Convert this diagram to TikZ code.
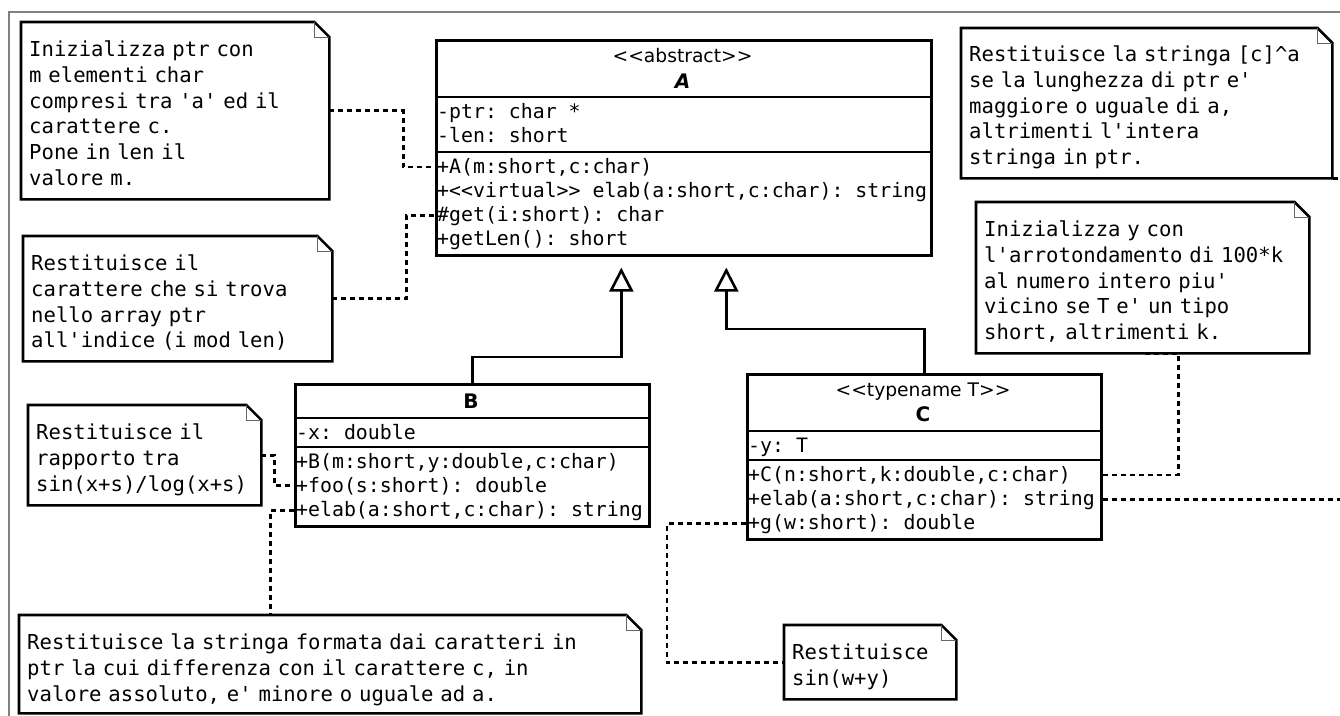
\documentclass[tikz,border=0pt]{standalone}
\usepackage{fontspec}
\setmainfont{DejaVu Sans}
\setmonofont{DejaVu Sans Mono}
\usetikzlibrary{arrows.meta}

\begin{document}
\begin{tikzpicture}[x=1pt,y=-1pt,
  classbox/.style={draw,line width=2.6pt,fill=white,inner sep=0pt,anchor=north west},
  member/.style={anchor=base west,inner sep=0pt,font=\ttfamily\fontsize{19.85}{24}\selectfont},
  stereo/.style={anchor=base,inner sep=0pt,font=\fontsize{18.7}{22}\selectfont},
  cname/.style={anchor=base,inner sep=0pt,font=\bfseries\fontsize{20}{22}\selectfont},
  notebox/.style={inner sep=0pt,anchor=north west},
  notetext/.style={anchor=base west,inner sep=0pt,align=left,text width=#1,font=\ttfamily\fontsize{20.6}{25.8}\selectfont},
  link/.style={line width=2.6pt,dash pattern=on 5pt off 4pt},
  gen/.style={line width=2.6pt,-{Triangle[open,length=24pt,width=24pt]},shorten >=11pt}]
\useasboundingbox (0,0) rectangle (1340,715);
\fill[white] (0,0) rectangle (1340,715);
\draw[gray,line width=2pt] (9,720) -- (9,12) -- (1345,12);

% notes
\node[notebox,minimum width=308pt,minimum height=177pt] (initA) at (21,22) {};
\node[notebox,minimum width=309pt,minimum height=125pt] (getA) at (23,236) {};
\node[notebox,minimum width=233pt,minimum height=100pt] (fooB) at (28,405) {};
\node[notebox,minimum width=622pt,minimum height=98pt] (elabB) at (19,615) {};
\node[notebox,minimum width=371pt,minimum height=150pt] (elabA) at (961,28) {};
\node[notebox,minimum width=333pt,minimum height=151pt] (initC) at (976,202) {};
\node[notebox,minimum width=172pt,minimum height=74pt] (gC) at (784,625) {};
\foreach \n in {initA,getA,fooB,elabB,elabA,initC,gC} {
  \draw[line width=2.6pt] (\n.north west) -- ([xshift=-15pt]\n.north east) -- ([yshift=-15pt]\n.north east) -- (\n.south east) -- (\n.south west) -- cycle;
  \draw[line width=1pt,black!60] ([xshift=-15pt]\n.north east) |- ([yshift=-15pt]\n.north east);
}
\node[notetext=292pt] (initAtxt) at ([shift={(8,34.5)}]initA.north west)
  {Inizializza ptr con\\m elementi char\\compresi tra 'a' ed il\\carattere c.\\Pone in len il\\valore m.};
\node[notetext=292pt] (getAtxt) at ([shift={(8,34.5)}]getA.north west)
  {Restituisce il\\carattere che si trova\\nello array ptr\\all'indice (i mod len)};
\node[notetext=222pt] (fooBtxt) at ([shift={(8,34.5)}]fooB.north west)
  {Restituisce il\\rapporto tra\\sin(x+s)/log(x+s)};
\node[notetext=608pt] (elabBtxt) at ([shift={(8,34.5)}]elabB.north west)
  {Restituisce la stringa formata dai caratteri in\\ptr la cui differenza con il carattere c, in\\valore assoluto, e' minore o uguale ad a.};
\node[notetext=360pt] (elabAtxt) at ([shift={(8,33.5)}]elabA.north west)
  {Restituisce la stringa [c]\textasciicircum a\\se la lunghezza di ptr e'\\maggiore o uguale di a,\\altrimenti l'intera\\stringa in ptr.};
\node[notetext=322pt] (initCtxt) at ([shift={(8,34.5)}]initC.north west)
  {Inizializza y con\\l'arrotondamento di 100*k\\al numero intero piu'\\vicino se T e' un tipo\\short, altrimenti k.};
\node[notetext=160pt] (gCtxt) at ([shift={(8,34.5)}]gC.north west)
  {Restituisce\\sin(w+y)};

% classes
\node[classbox,minimum width=495pt,minimum height=215pt] (A) at (435,39) {};
\node[classbox,minimum width=354pt,minimum height=142pt] (B) at (294,383) {};
\node[classbox,minimum width=354pt,minimum height=165pt] (C) at (746,373) {};
\foreach \c/\d in {A/58,A/113,B/35,B/64,C/58,C/87}
  \draw[line width=2.6pt] ([yshift=-\d pt]\c.north west) -- ([yshift=-\d pt]\c.north east);
\node[stereo] (Aster) at (682.5,62) {<\kern0pt<abstract>\kern0pt>};
\node[cname] (Aname) at (682.5,88) {\itshape A};
\node[cname] (Bname) at (471,408) {B};
\node[stereo] (Cster) at (923,396) {<\kern0pt<typename T>\kern0pt>};
\node[cname] (Cname) at (923,421) {C};
\foreach \n/\t/\y in {Aptr/{-ptr: char *}/118, Alen/{-len: short}/142,
    Actor/{+A(m:short,c:char)}/173, Aelab/{+<<virtual>> elab(a:short,c:char): string}/197,
    Aget/{\#get(i:short): char}/221, AgetLen/{+getLen(): short}/245}
  \node[member] (\n) at (437,\y) {\t};
\foreach \n/\t/\y in {Bx/{-x: double}/439, Bctor/{+B(m:short,y:double,c:char)}/468,
    Bfoo/{+foo(s:short): double}/492, Belab/{+elab(a:short,c:char): string}/516}
  \node[member] (\n) at (296,\y) {\t};
\foreach \n/\t/\y in {Cy/{-y: T}/452, Cctor/{+C(n:short,k:double,c:char)}/481,
    Celab/{+elab(a:short,c:char): string}/505, Cg/{+g(w:short): double}/529}
  \node[member] (\n) at (748,\y) {\t};

% inheritance
\draw[gen] (B.north) -- ++(0,-26) -| ([xshift=-62.5pt]A.south);
\draw[gen] (C.north) -- ++(0,-44) -| ([xshift=42.5pt]A.south);

% note links
\draw[link] (initA.east) -- ++(74,0) |- (A.west |- Actor);
\draw[link] (getA.east) -- ++(74,0) |- (A.west |- Aget);
\draw[link] (fooB.east) -- ++(13,0) |- (B.west |- Bfoo);
\draw[link] (B.west |- Belab) -| ([xshift=-60pt]elabB.north) -- (elabB.north);
\draw[link] (C.east |- Cctor) -| ([xshift=35.5pt]initC.south) -- (initC.south);
\draw[link] (C.east |- Celab) -| ([xshift=20pt]elabA.south east) -- (elabA.south east);
\draw[link] (C.west |- Cg) -- ++(-79,0) |- (gC.west);
\end{tikzpicture}
\end{document}
